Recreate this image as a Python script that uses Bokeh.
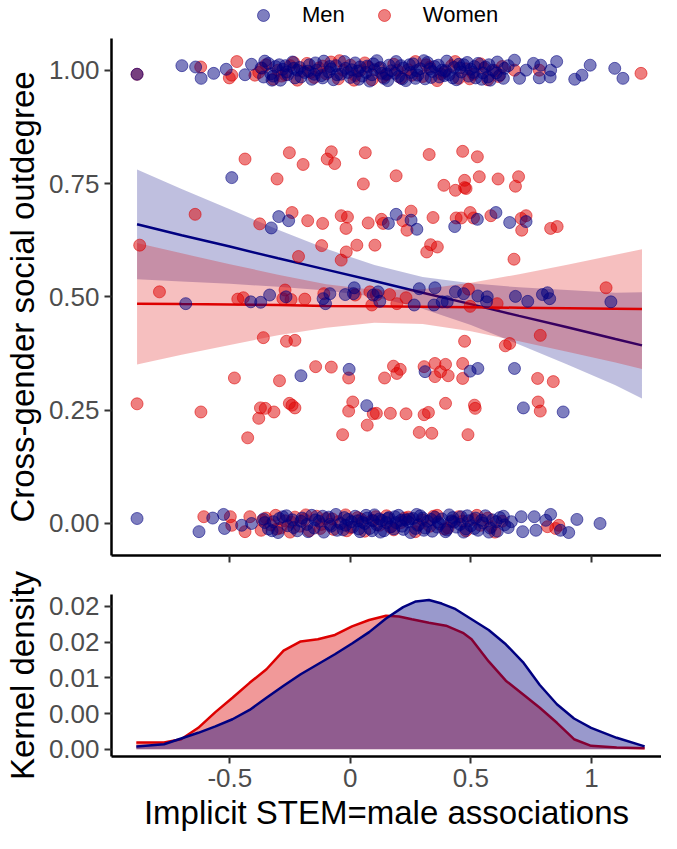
from bokeh.plotting import figure
from bokeh.layouts import column
from bokeh.models import Range1d, FixedTicker, Legend, LegendItem
from bokeh.embed import file_html
from bokeh.resources import INLINE

# ---------------- data ----------------
men_x = [
    # middle values
    -0.492, -0.297, -0.256, -0.328, 0.158, -0.683, -0.413, -0.372, -0.335, -0.267,
    -0.113, -0.103, -0.085, -0.021, 0.016, 0.013, 0.095, 0.115, 0.122,
    -0.005, -0.205, 0.068,
    0.190, 0.252, 0.276, 0.433, 0.527, 0.604, 0.661, 0.729,
    0.286, 0.351, 0.436, 0.470, 0.529, 0.568, 0.685, 0.736, 0.797, 0.818, 0.827, 1.081,
    0.265, 0.347, 0.381, 0.402, 0.565,
    0.681, 0.310, 0.497, 0.529, 0.718, 0.883,
    # top band, sparse
    -0.885, -0.699, -0.642, -0.619, -0.567, -0.515, -0.437, -0.410,
    0.681, 0.702, 0.729, 0.760, 0.784, 0.790, 0.829, 0.831, 0.856, 0.931, 0.961, 0.995, 1.097, 1.131,
    # top band, dense
    -0.37, -0.36, -0.34, -0.33, -0.31, -0.29, -0.28, -0.26, -0.24, -0.23, -0.21, -0.19, -0.17, -0.16,
    -0.14, -0.12, -0.11, -0.09, -0.07, -0.06, -0.04, -0.02, 0.00, 0.02, 0.03, 0.05, 0.07, 0.08,
    0.10, 0.11, 0.13, 0.14, 0.16, 0.17, 0.19, 0.20, 0.22, 0.23, 0.25, 0.26, 0.28, 0.29, 0.31,
    0.32, 0.34, 0.35, 0.37, 0.38, 0.40, 0.41, 0.43, 0.44, 0.46, 0.47, 0.49, 0.50, 0.52, 0.53,
    0.55, 0.56, 0.58, 0.59, 0.61, 0.62, 0.64,
    0.15, 0.21, 0.27, 0.33, 0.39, 0.45, 0.51, 0.57, 0.09, 0.04, -0.01, -0.08, -0.15, -0.22, -0.27, -0.32,
    -0.355, -0.325, -0.295, -0.265, -0.235, -0.205, -0.175, -0.145, -0.115, -0.085, -0.055, -0.025,
    0.005, 0.035, 0.065, 0.095, 0.125, 0.155, 0.185, 0.215, 0.245, 0.275, 0.305, 0.335, 0.365,
    0.395, 0.425, 0.455, 0.485, 0.515, 0.545, 0.575, 0.605, 0.635, 0.655,
    # bottom band, sparse
    -0.885, -0.628, -0.571, -0.526, -0.522, -0.451, -0.410,
    0.668, 0.709, 0.715, 0.763, 0.770, 0.811, 0.831, 0.872, 0.906, 0.940, 1.036,
    # bottom band, dense
    -0.36, -0.34, -0.32, -0.30, -0.28, -0.26, -0.24, -0.22, -0.20, -0.18, -0.16, -0.15, -0.13,
    -0.11, -0.09, -0.08, -0.06, -0.04, -0.03, -0.01, 0.01, 0.02, 0.04, 0.05, 0.07, 0.08, 0.10,
    0.11, 0.13, 0.14, 0.16, 0.17, 0.19, 0.20, 0.22, 0.23, 0.25, 0.26, 0.28, 0.29, 0.31, 0.32,
    0.34, 0.35, 0.37, 0.38, 0.40, 0.41, 0.43, 0.44, 0.46, 0.47, 0.49, 0.50, 0.52, 0.53, 0.55,
    0.56, 0.58, 0.59, 0.61, 0.62, 0.64,
    0.06, 0.12, 0.18, 0.24, 0.30, 0.36, 0.42, 0.48, 0.03, -0.02, 0.09, 0.15, 0.21, 0.27,
    -0.355, -0.325, -0.295, -0.265, -0.235, -0.205, -0.175, -0.145, -0.115, -0.085, -0.055, -0.025,
    0.005, 0.035, 0.065, 0.095, 0.125, 0.155, 0.185, 0.215, 0.245, 0.275, 0.305, 0.335, 0.365,
    0.395, 0.425, 0.455, 0.485, 0.515, 0.545, 0.575, 0.605, 0.635, 0.655,
]
men_y = [
    0.763, 0.677, 0.668, 0.652, 0.662, 0.485, 0.489, 0.488, 0.504, 0.500,
    0.496, 0.485, 0.507, 0.505, 0.520, 0.507, 0.504, 0.511, 0.490,
    0.340, 0.326, 0.260,
    0.682, 0.669, 0.649, 0.655, 0.671, 0.686, 0.664, 0.666,
    0.518, 0.520, 0.511, 0.507, 0.502, 0.500, 0.501, 0.490, 0.505, 0.509, 0.496, 0.489,
    0.482, 0.482, 0.489, 0.489, 0.489,
    0.342, 0.335, 0.336, 0.342, 0.255, 0.246,
    0.991, 1.010, 1.007, 0.982, 0.993, 1.002, 0.990, 1.013,
    1.022, 0.982, 1.000, 1.015, 0.983, 1.011, 0.985, 1.000, 1.019, 0.980, 0.989, 1.011, 1.004, 0.982,
    1.005, 0.985, 1.015, 0.992, 1.008, 0.978, 1.002, 0.990, 1.018, 0.983, 1.006, 0.995, 1.012, 0.980,
    1.000, 0.988, 1.020, 0.996, 0.979, 1.010, 0.991, 1.004, 0.984, 1.016, 0.998, 0.987, 1.009, 0.976,
    1.001, 1.021, 0.993, 0.982, 1.011, 0.999, 1.019, 0.986, 1.005, 0.977, 0.995, 1.014, 0.989, 1.003, 0.981,
    1.017, 0.997, 1.008, 0.985, 1.000, 1.020, 0.990, 1.006, 0.979, 0.996, 1.012, 0.987, 1.002, 0.983, 1.015,
    0.994, 1.007, 0.978, 1.000, 1.018, 0.989, 1.004,
    0.992, 1.010, 0.982, 1.003, 0.988, 1.013, 0.995, 0.985, 0.990, 1.007, 0.995, 1.003, 0.991, 1.000, 1.010, 0.987,
    1.020, 0.978, 1.012, 0.996, 1.004, 0.985, 0.998, 1.016, 0.983, 1.008, 0.990, 1.019,
    1.001, 0.980, 0.995, 1.014, 1.006, 0.977, 0.993, 0.981, 1.012, 0.999, 1.021, 0.984, 1.011,
    0.999, 0.983, 1.005, 1.017, 1.008, 0.980, 1.012, 0.994, 0.982, 1.010,
    0.011, -0.018, 0.012, 0.020, -0.011, -0.004, 0.000,
    0.004, 0.015, -0.018, 0.015, -0.015, 0.007, 0.020, -0.015, -0.020, 0.009, 0.000,
    0.010, -0.012, 0.004, -0.020, 0.015, -0.005, 0.008, -0.016, 0.012, -0.002, 0.018, -0.010, 0.005,
    -0.019, 0.014, -0.006, 0.020, 0.000, -0.014, 0.009, -0.008, 0.016, -0.018, 0.003, 0.012, -0.011, 0.019,
    -0.003, 0.007, -0.016, 0.013, -0.007, 0.002, 0.018, -0.013, 0.008, -0.020, 0.011, -0.004, 0.017, -0.010, 0.005,
    -0.017, 0.014, -0.001, 0.010, -0.014, 0.019, 0.003, -0.008, 0.015, -0.019, 0.006, -0.005, 0.012, -0.015, 0.001,
    0.017, -0.010, 0.008, -0.017, 0.013, -0.003,
    0.000, 0.010, -0.012, 0.004, 0.012, -0.008, 0.006, -0.012, 0.006, -0.004, -0.016, 0.002, 0.007, -0.011,
    0.002, -0.016, 0.011, 0.017, -0.009, 0.005, -0.018, 0.008, 0.016, -0.002, -0.015, 0.013,
    0.004, -0.012, 0.018, 0.006, -0.019, 0.011, 0.015, -0.006, 0.010, 0.020, -0.015, 0.009, 0.003,
    -0.018, 0.013, -0.002, 0.017, -0.011, 0.007, -0.019, 0.004, 0.016, -0.009,
]
women_x = [
    -0.437, -0.253, -0.196, -0.079, -0.096, -0.065, 0.062, -0.304, 0.054, 0.190,
    -0.644, -0.242, -0.376, -0.177, -0.115, -0.038, -0.012, -0.018, 0.074, 0.129, 0.136,
    -0.874, -0.119, 0.027, 0.102, -0.017, -0.215, -0.038,
    -0.792, -0.467, -0.444, -0.271, -0.280, -0.246, -0.189, -0.110, 0.020, 0.081, 0.089, 0.108, 0.163,
    -0.361, -0.265, -0.230, -0.144, -0.079, -0.007, -0.481, -0.294, 0.179, 0.193, 0.142,
    -0.885, -0.620, -0.373, -0.353, -0.317, -0.380, -0.253, -0.242, -0.230, 0.010, -0.007, 0.095, 0.070, 0.166,
    -0.426, -0.032,
    0.327, 0.466, 0.527, 0.388, 0.436, 0.474, 0.474, 0.480, 0.535, 0.613, 0.698, 0.685,
    0.218, 0.252, 0.235, 0.343, 0.439, 0.460, 0.497, 0.511, 0.583, 0.709, 0.729, 0.711, 0.831, 0.858,
    0.333, 0.361, 0.317, 0.679, 1.061,
    0.231, 0.193, 0.490, 0.497, 0.609,
    0.788, 0.474, 0.643, 0.661,
    0.207, 0.306, 0.351, 0.395, 0.374, 0.351, 0.406, 0.466, 0.466, 0.777, 0.842,
    0.108, 0.231, 0.306, 0.324, 0.395, 0.515, 0.518, 0.779, 0.788,
    0.286, 0.338, 0.488,
    # top band
    -0.885, -0.621, -0.502, -0.492, -0.471, -0.396, 0.681, 0.784, 1.206,
    -0.38, -0.35, -0.32, -0.30, -0.27, -0.25, -0.22, -0.20, -0.18, -0.15, -0.13, -0.10, -0.08,
    -0.05, -0.03, 0.00, 0.02, 0.04, 0.06, 0.09, 0.12, 0.15, 0.18, 0.21, 0.24, 0.27, 0.30, 0.33,
    0.36, 0.39, 0.42, 0.45, 0.48, 0.51, 0.54, 0.57, 0.60, 0.63,
    -0.365, -0.285, -0.235, -0.165, -0.115, -0.045, 0.015, 0.075, 0.135, 0.195, 0.255, 0.315,
    0.375, 0.435, 0.495, 0.555, 0.615,
    # bottom band
    -0.608, -0.498, -0.492, -0.437, -0.417, 0.818, 0.852, 0.865,
    -0.37, -0.35, -0.33, -0.31, -0.29, -0.27, -0.25, -0.23, -0.21, -0.19, -0.17, -0.14, -0.12,
    -0.10, -0.07, -0.05, -0.02, 0.00, 0.03, 0.06, 0.09, 0.12, 0.15, 0.18, 0.21, 0.24, 0.27, 0.30,
    0.33, 0.36, 0.39, 0.42, 0.45, 0.48, 0.51, 0.54, 0.57, 0.60, 0.63,
    -0.365, -0.305, -0.245, -0.185, -0.125, -0.075, -0.015, 0.045, 0.105, 0.165, 0.225, 0.285,
    0.345, 0.405, 0.465, 0.525, 0.585,
]
women_y = [
    0.804, 0.818, 0.792, 0.820, 0.804, 0.794, 0.818, 0.760, 0.749, 0.767,
    0.682, 0.686, 0.661, 0.668, 0.662, 0.679, 0.676, 0.651, 0.663, 0.671, 0.662,
    0.614, 0.613, 0.614, 0.614, 0.599, 0.589, 0.581,
    0.511, 0.495, 0.498, 0.515, 0.496, 0.494, 0.495, 0.507, 0.504, 0.511, 0.482, 0.504, 0.505,
    0.410, 0.402, 0.404, 0.346, 0.345, 0.321, 0.321, 0.315, 0.347, 0.331, 0.321,
    0.264, 0.246, 0.255, 0.254, 0.246, 0.232, 0.265, 0.261, 0.255, 0.268, 0.248, 0.242, 0.217, 0.243,
    0.189, 0.196,
    0.814, 0.821, 0.809, 0.746, 0.735, 0.757, 0.741, 0.739, 0.765, 0.760, 0.765, 0.744,
    0.668, 0.689, 0.647, 0.675, 0.674, 0.674, 0.686, 0.674, 0.679, 0.673, 0.679, 0.647, 0.651, 0.655,
    0.615, 0.610, 0.599, 0.583, 0.520,
    0.498, 0.485, 0.517, 0.479, 0.485,
    0.415, 0.402, 0.392, 0.397,
    0.340, 0.346, 0.353, 0.351, 0.335, 0.324, 0.326, 0.353, 0.320, 0.320, 0.313,
    0.243, 0.242, 0.240, 0.245, 0.265, 0.261, 0.254, 0.268, 0.248,
    0.201, 0.199, 0.196,
    0.991, 1.007, 0.983, 0.989, 1.019, 0.989, 1.000, 1.000, 0.993,
    0.995, 1.012, 0.980, 1.000, 0.990, 1.010, 0.978, 0.998, 1.015, 0.984, 1.005, 0.992, 1.018,
    0.981, 1.000, 1.011, 0.988, 0.999, 1.016, 0.979, 1.004, 0.990, 1.013, 0.983, 1.001, 1.019, 0.986, 1.007,
    0.977, 0.996, 1.010, 0.982, 1.003, 0.991, 1.014, 0.979, 0.999, 1.008,
    1.004, 0.987, 1.017, 0.995, 1.009, 1.021, 0.978, 1.007, 0.985, 1.000, 0.989, 1.012,
    0.992, 1.019, 0.981, 1.004, 0.986,
    0.015, 0.015, -0.004, -0.018, 0.015, -0.007, -0.011, -0.004,
    -0.015, 0.012, -0.003, 0.018, -0.010, 0.006, -0.019, 0.014, -0.006, 0.009, -0.016, 0.016, -0.002,
    0.011, -0.013, 0.004, 0.019, -0.009, 0.013, -0.017, 0.007, -0.004, 0.017, -0.014, 0.002, 0.014, -0.018, 0.008,
    -0.006, 0.018, -0.012, 0.004, 0.015, -0.016, 0.009, -0.004, 0.012, -0.019, 0.005,
    0.007, -0.012, 0.003, 0.019, -0.011, 0.010, -0.016, 0.009, 0.015, -0.008, 0.012, -0.002,
    0.016, -0.010, 0.005, 0.018, -0.007,
]

# linear fits with 95% bands
fit_x = [-0.885, -0.7, -0.5, -0.3, -0.1, 0.1, 0.3, 0.5, 0.7, 0.9, 1.1, 1.21]
men_fit = [0.660, 0.636, 0.611, 0.585, 0.560, 0.535, 0.509, 0.484, 0.458, 0.433, 0.407, 0.393]
men_lo = [0.539, 0.534, 0.529, 0.522, 0.514, 0.500, 0.474, 0.438, 0.395, 0.351, 0.305, 0.276]
men_hi = [0.781, 0.738, 0.693, 0.648, 0.606, 0.570, 0.544, 0.530, 0.521, 0.515, 0.509, 0.510]
women_fit = [0.485, 0.484, 0.483, 0.482, 0.480, 0.479, 0.478, 0.477, 0.476, 0.475, 0.474, 0.473]
women_lo = [0.351, 0.372, 0.394, 0.415, 0.432, 0.443, 0.440, 0.424, 0.402, 0.379, 0.355, 0.341]
women_hi = [0.619, 0.596, 0.572, 0.549, 0.528, 0.515, 0.517, 0.531, 0.550, 0.571, 0.593, 0.605]

# kernel densities
dens_women_x = [-0.888, -0.773, -0.702, -0.631, -0.560, -0.489, -0.418, -0.348, -0.277, -0.206,
                -0.135, -0.064, 0.007, 0.078, 0.148, 0.202, 0.255, 0.326, 0.397, 0.467,
                0.503, 0.574, 0.645, 0.716, 0.786, 0.857, 0.928, 0.999, 1.105, 1.221]
dens_women = [0.00094, 0.00094, 0.0014, 0.0030, 0.0052, 0.0072, 0.0093, 0.0112, 0.0138, 0.0151,
              0.0154, 0.0160, 0.0172, 0.0181, 0.0187, 0.0186, 0.0182, 0.0177, 0.0173, 0.0163,
              0.0154, 0.0123, 0.0096, 0.0077, 0.0058, 0.0037, 0.0014, 0.00047, 0.00024, 0.00014]
dens_men_x = [-0.888, -0.773, -0.702, -0.631, -0.560, -0.489, -0.418, -0.348, -0.277, -0.206,
              -0.135, -0.064, 0.007, 0.078, 0.148, 0.219, 0.272, 0.326, 0.379, 0.432,
              0.503, 0.574, 0.645, 0.716, 0.786, 0.857, 0.928, 0.999, 1.105, 1.221]
dens_men = [0.00038, 0.0007, 0.0015, 0.0023, 0.0032, 0.0042, 0.0055, 0.0072, 0.0089, 0.0105,
            0.0119, 0.0133, 0.0148, 0.0164, 0.0183, 0.0199, 0.0207, 0.0209, 0.0204, 0.0197,
            0.0182, 0.0167, 0.0147, 0.0122, 0.0090, 0.0063, 0.0043, 0.0030, 0.0016, 0.0004]

x_ticks = [-0.5, 0, 0.5, 1]
x_tick_labels = ["-0.5", "0", "0.5", "1"]
y1_ticks = [0, 0.25, 0.5, 0.75, 1]
y1_tick_labels = ["0.00", "0.25", "0.50", "0.75", "1.00"]
y2_ticks = [0, 0.005, 0.01, 0.015, 0.02]
y2_tick_labels = ["0.00", "0.00", "0.01", "0.02", "0.02"]
legend_labels = ["Men", "Women"]

# ---------------- style ----------------
MEN = "#000080"
WOMEN = "#DD0000"
FONT = "Liberation Sans"
TICK_PX = "26px"
TITLE_PX = "33px"
PT_SIZE = 12
NAN = float("nan")


def style_axes(p):
    p.outline_line_color = None
    p.xgrid.grid_line_color = None
    p.ygrid.grid_line_color = None
    p.background_fill_color = "white"
    for ax in (p.xaxis[0], p.yaxis[0]):
        ax.axis_line_color = "black"
        ax.axis_line_width = 2.5
        ax.major_tick_line_color = "#333333"
        ax.major_tick_line_width = 2
        ax.major_tick_out = 7
        ax.major_tick_in = 0
        ax.minor_tick_line_color = None
        ax.major_label_text_font = FONT
        ax.major_label_text_font_size = TICK_PX
        ax.major_label_text_color = "#4D4D4D"
        ax.major_label_standoff = 5
        ax.axis_label_text_font = FONT
        ax.axis_label_text_font_size = TITLE_PX
        ax.axis_label_text_font_style = "normal"
        ax.axis_label_text_color = "black"


x_range = Range1d(-0.991, 1.291)

# ---------------- legend strip ----------------
p0 = figure(width=661, height=30, x_range=Range1d(0, 1), y_range=Range1d(0, 1),
            output_backend="svg", toolbar_location=None,
            x_axis_location=None, y_axis_location=None,
            min_border_left=0, min_border_right=0, min_border_top=0, min_border_bottom=0)
p0.xgrid.grid_line_color = None
p0.ygrid.grid_line_color = None
p0.outline_line_color = None
# legend keys only (no data drawn)
k_m = p0.scatter(x=[NAN], y=[NAN], marker="circle", size=PT_SIZE, fill_color=MEN, fill_alpha=0.5,
                 line_color=MEN, line_alpha=0.55, line_width=1)
k_w = p0.scatter(x=[NAN], y=[NAN], marker="circle", size=PT_SIZE, fill_color=WOMEN, fill_alpha=0.5,
                 line_color=WOMEN, line_alpha=0.55, line_width=1)
legend = Legend(items=[LegendItem(label=legend_labels[0], renderers=[k_m]),
                       LegendItem(label=legend_labels[1], renderers=[k_w])],
                orientation="horizontal", location=(136, 0),
                glyph_width=32, glyph_height=30, label_standoff=23, spacing=23,
                padding=0, margin=0, border_line_color=None, background_fill_alpha=0,
                label_text_font=FONT, label_text_font_size="22px", label_text_color="black")
p0.add_layout(legend)

# ---------------- top panel ----------------
p1 = figure(width=661, height=537, x_range=x_range, y_range=Range1d(-0.0706, 1.0699),
            output_backend="svg", toolbar_location=None,
            min_border_left=104, min_border_right=0, min_border_top=8, min_border_bottom=12)
style_axes(p1)

p1.varea(x=fit_x, y1=men_lo, y2=men_hi, fill_color=MEN, fill_alpha=0.25)
p1.line(fit_x, men_fit, line_color=MEN, line_width=2.5)
p1.varea(x=fit_x, y1=women_lo, y2=women_hi, fill_color=WOMEN, fill_alpha=0.25)
p1.line(fit_x, women_fit, line_color=WOMEN, line_width=2.5)

p1.scatter(women_x, women_y, marker="circle", size=PT_SIZE, fill_color=WOMEN, fill_alpha=0.5,
           line_color=WOMEN, line_alpha=0.55, line_width=1)
p1.scatter(men_x, men_y, marker="circle", size=PT_SIZE, fill_color=MEN, fill_alpha=0.5,
           line_color=MEN, line_alpha=0.55, line_width=1)

p1.xaxis.ticker = FixedTicker(ticks=x_ticks)
p1.xaxis.major_label_overrides = {t: "" for t in x_ticks}
p1.xaxis.major_label_text_font_size = "1px"
p1.xaxis.major_label_standoff = 0
p1.yaxis.ticker = FixedTicker(ticks=y1_ticks)
p1.yaxis.major_label_overrides = dict(zip(y1_ticks, y1_tick_labels))
p1.yaxis.axis_label = "Cross-gender social outdegree"
p1.yaxis.axis_label_standoff = 5

# ---------------- bottom panel ----------------
p2 = figure(width=661, height=266, x_range=x_range, y_range=Range1d(-0.00102, 0.02167),
            output_backend="svg", toolbar_location=None,
            min_border_left=104, min_border_right=0, min_border_top=27, min_border_bottom=77)
style_axes(p2)

p2.varea(x=dens_women_x, y1=0, y2=dens_women, fill_color=WOMEN, fill_alpha=0.4)
p2.line(dens_women_x, dens_women, line_color=WOMEN, line_width=2.5)
p2.varea(x=dens_men_x, y1=0, y2=dens_men, fill_color=MEN, fill_alpha=0.4)
p2.line(dens_men_x, dens_men, line_color=MEN, line_width=2.5)

p2.xaxis.ticker = FixedTicker(ticks=x_ticks)
p2.xaxis.major_label_overrides = dict(zip(x_ticks, x_tick_labels))
p2.xaxis.axis_label = "Implicit STEM=male associations"
p2.xaxis.axis_label_standoff = 4
p2.yaxis.ticker = FixedTicker(ticks=y2_ticks)
p2.yaxis.major_label_overrides = dict(zip(y2_ticks, y2_tick_labels))
p2.yaxis.axis_label = "Kernel density"
p2.yaxis.axis_label_standoff = 5

layout = column(p0, p1, p2, spacing=0)
open("out.html", "w").write(file_html(layout, INLINE))
